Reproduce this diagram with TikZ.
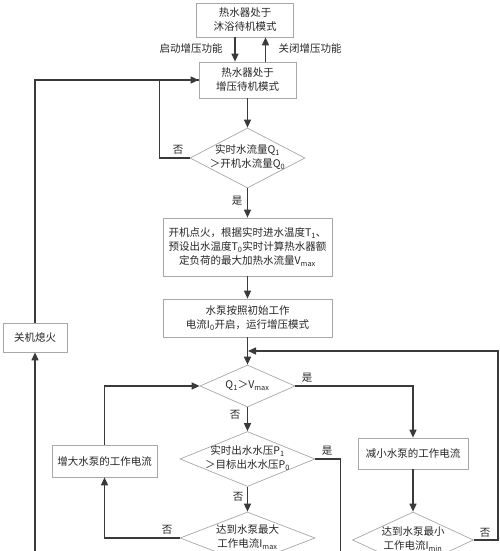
\documentclass[tikz,border=0pt]{standalone}
\usepackage{fontspec}
\setmainfont{Noto Sans CJK SC}
\usetikzlibrary{shapes.geometric,arrows.meta,calc}
\newcommand\dtext[1]{\makebox[0pt]{\raisebox{-2.5pt}[0pt][0pt]{\begin{tabular}{@{}c@{}}#1\end{tabular}}}}
\definecolor{edgec}{HTML}{A8A8A8}
\definecolor{linec}{HTML}{3A3A3A}
\begin{document}
\begin{tikzpicture}[x=1pt,y=-1pt,
  every node/.style={font=\fontsize{10.5}{14}\selectfont, text=black!85},
  box/.style={draw=edgec, line width=0.7pt, fill=white, align=center, inner sep=0pt},
  dia/.style={diamond, draw=edgec, line width=0.7pt, fill=white, inner sep=0pt, aspect=1},
  conn/.style={draw=linec, line width=1.4pt, -{Triangle[length=8pt,width=7pt]}},
  plain/.style={draw=linec, line width=1.4pt},
  lbl/.style={font=\fontsize{10.5}{12}\selectfont}]
\useasboundingbox (0,0) rectangle (500,551);
\clip (0,0) rectangle (500,551);
% nodes
\node[box, minimum width=97, minimum height=34] (b1) at (245,20) {热水器处于\\沐浴待机模式};
\node[box, minimum width=97, minimum height=36] (b2) at (247.5,80) {热水器处于\\增压待机模式};
\node[dia, minimum width=115, minimum height=60] (d1) at (247.5,158) {\dtext{实时水流量Q\textsubscript{1}\\＞开机水流量Q\textsubscript{0}}};
\node[box, minimum width=169, minimum height=58] (b3) at (247.5,247) {开机点火，根据实时进水温度T\textsubscript{1}、\\预设出水温度T\textsubscript{0}实时计算热水器额\\定负荷的最大加热水流量V\textsubscript{max}};
\node[box, minimum width=169, minimum height=38] (b4) at (247.5,318) {水泵按照初始工作\\电流I\textsubscript{0}开启，运行增压模式};
\node[dia, minimum width=95, minimum height=42] (d2) at (247.5,386) {\dtext{Q\textsubscript{1}＞V\textsubscript{max}}};
\node[dia, minimum width=135, minimum height=55] (d3) at (247.5,459) {\dtext{实时出水水压P\textsubscript{1}\\＞目标出水水压P\textsubscript{0}}};
\node[dia, minimum width=135, minimum height=52] (d4) at (247.5,538) {\dtext{达到水泵最大\\工作电流I\textsubscript{max}}};
\node[box, minimum width=105, minimum height=32] (b5) at (104.5,461) {增大水泵的工作电流};
\node[box, minimum width=110, minimum height=31] (b6) at (413,453.5) {减小水泵的工作电流};
\node[dia, minimum width=121, minimum height=56] (d5) at (413,540) {\dtext{达到水泵最小\\工作电流I\textsubscript{min}}};
\node[box, minimum width=64, minimum height=29] (b7) at (35,337.5) {关机熄火};
\coordinate (lb) at (35,600);
\coordinate (rb) at (340,600);
\coordinate (mj) at ($(b4.south)!.5!(d2.north)$);
% connectors
\draw[conn] ([xshift=-10pt]b1.south) -- ([xshift=-10pt]b1.south |- b2.north);
\draw[conn] ([xshift=18pt]b2.north) -- ([xshift=18pt]b2.north |- b1.south);
\node[lbl] (l1) at (191,49) {启动增压功能};
\node[lbl] (l2) at (310,49) {关闭增压功能};
\draw[conn] (b2) -- (d1);
\draw[plain] (b7.north) |- (b2.west);
\draw[conn] (d1.west) -- ++(-30,0) |- (b2.west);
\node[lbl] (n1) at (178,150) {否};
\draw[conn] (d1) -- (b3);
\node[lbl] (y1) at (237,201) {是};
\draw[conn] (b3) -- (b4);
\draw[conn] (b4) -- (d2);
\draw[conn, shorten >=0.5pt] (d5.east) -- ++(24,0) |- (mj);
\draw[conn] (d2.east) -| (b6.north);
\node[lbl] (y2) at (307,378) {是};
\draw[conn] (d2) -- (d3);
\node[lbl] (n2) at (235,415) {否};
\draw[plain] (d3.east) -- ++(25,0) |- (rb);
\node[lbl] (y3) at (327,451) {是};
\draw[conn] (d3) -- (d4);
\node[lbl] (n3) at (238,497) {否};
\draw[conn] (d4.west) -| (b5.south);
\node[lbl] (n4) at (167,530) {否};
\draw[conn] (b5.north) |- (d2.west);
\draw[conn] (b6) -- (d5);
\node[lbl] (n5) at (485,533) {否};
\draw[conn] (lb) -- (b7.south);
\end{tikzpicture}
\end{document}
